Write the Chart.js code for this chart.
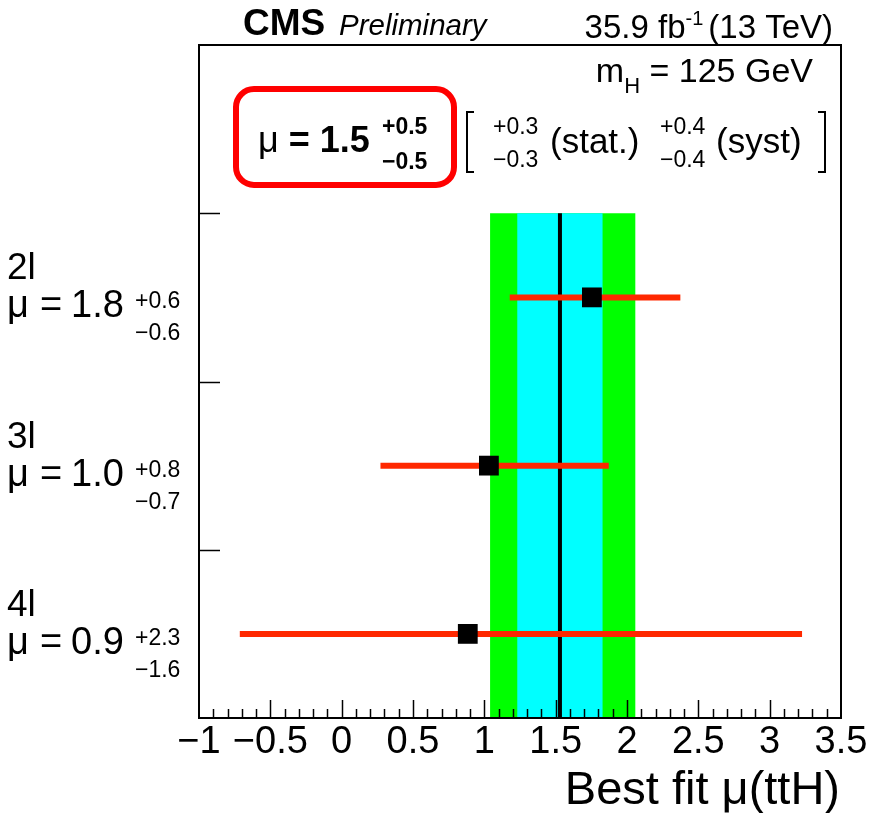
<!DOCTYPE html>
<html>
<head>
<meta charset="utf-8">
<script src="https://cdn.jsdelivr.net/npm/chart.js@4.4.1/dist/chart.umd.min.js"></script>
<style>
body { margin: 0; background: #fff; }
#wrap { width: 871px; height: 813px; position: relative; }
</style>
</head>
<body>
<div id="wrap"><canvas id="muChart"></canvas></div>
<script>
// channels, top to bottom
var channels = ['2l', '3l', '4l']
var rowPos = [2.5, 1.5, 0.5]
var muText = ['1.8', '1.0', '0.9']
var upText = ['+0.6', '+0.8', '+2.3']
var downText = ['\u22120.6', '\u22120.7', '\u22121.6']
var muVal = [1.754, 1.032, 0.884]
var muLo = [1.178, 0.272, -0.714]
var muHi = [2.374, 1.872, 3.227]

// combined fit
var comb = 1.53
var statBand = [1.23, 1.83]
var totBand = [1.04, 2.06]
var bandTop = 3

var yTicks = [1, 2, 3]

var FONT = '"Liberation Sans", Arial, sans-serif'

function txt(ctx, s, x, y, size, style, align) {
    ctx.font = (style || '') + ' ' + size + 'px ' + FONT
    ctx.textAlign = align || 'left'
    ctx.textBaseline = 'alphabetic'
    ctx.fillStyle = '#000'
    ctx.fillText(s, x, y)
    return ctx.measureText(s).width
}

function width(ctx, s, size, style) {
    ctx.font = (style || '') + ' ' + size + 'px ' + FONT
    return ctx.measureText(s).width
}

var datasets = []
datasets.push({
    type: 'line', label: 'total',
    data: [{x: totBand[0], y: bandTop}, {x: totBand[1], y: bandTop}],
    borderColor: 'rgba(0,0,0,0)', borderWidth: 0, pointRadius: 0,
    backgroundColor: '#00ff00', fill: {value: 0}, order: 5
})
datasets.push({
    type: 'line', label: 'stat',
    data: [{x: statBand[0], y: bandTop}, {x: statBand[1], y: bandTop}],
    borderColor: 'rgba(0,0,0,0)', borderWidth: 0, pointRadius: 0,
    backgroundColor: '#00ffff', fill: {value: 0}, order: 4
})
datasets.push({
    type: 'line', label: 'comb',
    data: [{x: comb, y: 0}, {x: comb, y: bandTop}],
    borderColor: '#000', borderWidth: 4, pointRadius: 0, fill: false, order: 3
})
channels.forEach(function(c, i) {
    datasets.push({
        type: 'line', label: c + ' err',
        data: [{x: muLo[i], y: rowPos[i]}, {x: muHi[i], y: rowPos[i]}],
        borderColor: '#ff2800', borderWidth: 6, borderCapStyle: 'butt',
        pointRadius: 0, fill: false, order: 2
    })
})
datasets.push({
    type: 'scatter', label: 'best fit',
    data: muVal.map(function(v, i) { return {x: v, y: rowPos[i]} }),
    pointStyle: 'rect', pointRadius: 14, backgroundColor: '#000',
    borderWidth: 0, order: 1
})

var decor = {
    id: 'decor',
    afterDraw: function(chart) {
        var ctx = chart.ctx, a = chart.chartArea
        var xs = chart.scales.x, ys = chart.scales.y
        ctx.save()
        ctx.strokeStyle = '#000'
        ctx.lineWidth = 2
        ctx.strokeRect(a.left, a.top, a.right - a.left, a.bottom - a.top)

        // inward ticks
        ctx.lineWidth = 1.5
        for (var k = 1; k < 45; k++) {
            var px = Math.round(xs.getPixelForValue(-1 + k * 0.1)) + 0.5
            var len = (k % 5 == 0) ? 18 : 9
            ctx.beginPath(); ctx.moveTo(px, a.bottom); ctx.lineTo(px, a.bottom - len); ctx.stroke()
        }
        yTicks.forEach(function(t) {
            var py = Math.round(ys.getPixelForValue(t)) + 0.5
            ctx.beginPath(); ctx.moveTo(a.left, py); ctx.lineTo(a.left + 21, py); ctx.stroke()
        })

        // channel labels
        channels.forEach(function(c, i) {
            var py = ys.getPixelForValue(rowPos[i])
            txt(ctx, c, 7, py - 18, 37)
            txt(ctx, '\u03bc', 7, py + 20, 38)
            txt(ctx, '=', 40, py + 20, 38)
            txt(ctx, muText[i], 71, py + 20, 38)
            txt(ctx, upText[i], 135, py + 11, 23)
            txt(ctx, downText[i], 135, py + 43, 23)
        })

        // header
        txt(ctx, 'CMS', 243, 35, 37, 'bold')
        txt(ctx, 'Preliminary', 339, 35, 29.5, 'italic')
        var w = width(ctx, '35.9 fb', 33) + width(ctx, '-1', 20) + 5 + width(ctx, '(13 TeV)', 33)
        var x0 = 833 - w
        x0 += txt(ctx, '35.9 fb', x0, 38, 33)
        x0 += txt(ctx, '-1', x0, 25, 20) + 5
        txt(ctx, '(13 TeV)', x0, 38, 33)

        var w1 = width(ctx, 'm', 34) + width(ctx, 'H', 22) + width(ctx, ' = 125 GeV', 34)
        var x1 = 813 - w1
        x1 += txt(ctx, 'm', x1, 82, 34)
        x1 += txt(ctx, 'H', x1, 93, 22)
        txt(ctx, ' = 125 GeV', x1, 82, 34)

        // combined result box
        ctx.strokeStyle = '#ff0000'
        ctx.lineWidth = 6
        ctx.beginPath()
        ctx.roundRect(236, 89, 218, 96, 18)
        ctx.stroke()
        var x2 = 258
        x2 += txt(ctx, '\u03bc', x2, 152, 36)
        txt(ctx, ' = 1.5', x2, 152, 36, 'bold')
        txt(ctx, '+0.5', 382, 134, 23, 'bold')
        txt(ctx, '\u22120.5', 382, 169, 23, 'bold')

        ctx.strokeStyle = '#000'
        ctx.lineWidth = 2
        ctx.beginPath()
        ctx.moveTo(474, 112); ctx.lineTo(467, 112); ctx.lineTo(467, 172); ctx.lineTo(474, 172)
        ctx.moveTo(818, 112); ctx.lineTo(825, 112); ctx.lineTo(825, 172); ctx.lineTo(818, 172)
        ctx.stroke()
        txt(ctx, '+0.3', 493, 134, 23)
        txt(ctx, '\u22120.3', 493, 167, 23)
        txt(ctx, '(stat.)', 550, 153, 35)
        txt(ctx, '+0.4', 660, 134, 23)
        txt(ctx, '\u22120.4', 660, 167, 23)
        txt(ctx, '(syst)', 716, 153, 35)

        // axis title
        txt(ctx, 'Best fit \u03bc(ttH)', 840, 804, 47, '', 'right')
        ctx.restore()
    }
}

var chart = new Chart(document.getElementById('muChart'), {
    type: 'scatter',
    data: { datasets: datasets },
    options: {
        responsive: true,
        maintainAspectRatio: false,
        animation: false,
        events: [],
        layout: { padding: { top: 45, right: 30, left: 0, bottom: 0 } },
        plugins: { legend: { display: false }, tooltip: { enabled: false } },
        scales: {
            x: {
                type: 'linear', min: -1, max: 3.5,
                grid: { display: false, drawTicks: false },
                border: { display: false },
                ticks: {
                    stepSize: 0.5, padding: 2, color: '#000',
                    font: { family: FONT, size: 38 },
                    maxRotation: 0, autoSkip: false,
                    callback: function(v) { return String(v).replace('-', '\u2212') }
                },
                afterFit: function(s) { s.height = 95 }
            },
            y: {
                type: 'linear', min: 0, max: 4,
                grid: { display: false, drawTicks: false },
                border: { display: false },
                ticks: { display: false },
                afterFit: function(s) { s.width = 199 }
            }
        }
    },
    plugins: [decor]
})
</script>
</body>
</html>
